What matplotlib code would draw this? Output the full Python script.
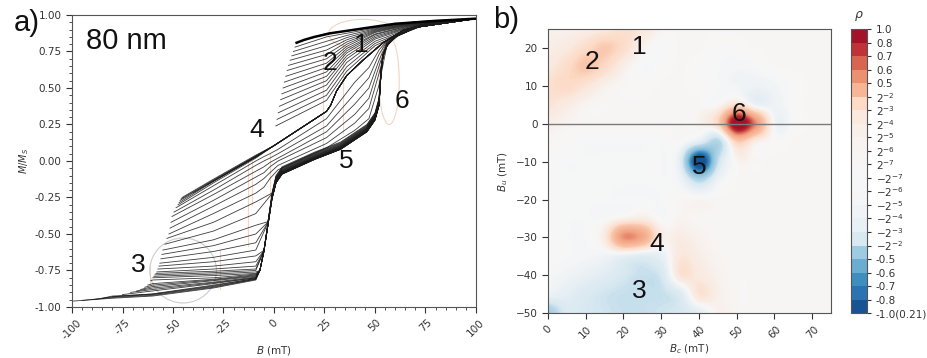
import numpy as np
import matplotlib.pyplot as plt
from matplotlib import colors
from matplotlib.cm import ScalarMappable
from matplotlib.patches import Ellipse
from matplotlib.ticker import AutoMinorLocator

# ---------------- a) first-order reversal curves ----------------
# upper envelope (saturated, reversible part)
env_B = [11.2, 15, 20, 28, 45, 60, 80, 100]
env_M = [0.81, 0.83, 0.85, 0.875, 0.91, 0.94, 0.96, 0.975]

# top group: reversal points on the steep upper drop, values at top_B
top_B = [26, 36, 50, 70, 100]
top_br = [11.2, 10.4, 9.6, 8.8, 8.0, 7.2, 6.5, 5.8, 5.1, 4.5, 3.9, 3.3, 2.7, 2.1, 1.5, 0.9]
top_mr = [0.81, 0.78, 0.75, 0.72, 0.69, 0.655, 0.62, 0.58, 0.54, 0.50, 0.46, 0.42, 0.375, 0.33, 0.285, 0.24]
top_m26 = [0.875, 0.85, 0.82, 0.79, 0.76, 0.73, 0.70, 0.67, 0.64, 0.61, 0.58, 0.55, 0.52, 0.485, 0.45, 0.415]
top_m36 = [0.89, 0.875, 0.86, 0.845, 0.83, 0.815, 0.80, 0.785, 0.77, 0.755, 0.74, 0.72, 0.70, 0.675, 0.645, 0.615]
top_m50 = [0.915, 0.91, 0.905, 0.90, 0.895, 0.89, 0.885, 0.88, 0.87, 0.865, 0.855, 0.845, 0.835, 0.82, 0.805, 0.79]
top_m70 = [0.955, 0.953, 0.951, 0.949, 0.947, 0.945, 0.943, 0.94, 0.938, 0.935, 0.932, 0.93, 0.927, 0.924, 0.92, 0.917]

# upper path (kink at feature 2)
U_B = [-9, 0, 26, 28, 31, 36, 44, 54, 64, 77, 100]
U_M = [0.03, 0.105, 0.34, 0.38, 0.48, 0.585, 0.69, 0.81, 0.895, 0.945, 0.975]
mid_br = [-40, -33, -26, -19, -12, -5]
mid_mr = [-0.218, -0.162, -0.106, -0.05, 0.006, 0.063]

# lower path (jump at feature 6), with spread weight along the path
L_B = [-9, -7, -5, -3, -1, 1, 4, 20, 33, 46, 50, 52, 53, 54, 56, 60, 70, 100]
L_M = [-0.80, -0.75, -0.62, -0.44, -0.26, -0.15, -0.09, 0.01, 0.08, 0.20, 0.28, 0.38, 0.60, 0.72, 0.79, 0.85, 0.915, 0.975]
L_w = [0, 0, 0.3, 0.6, 0.8, 1, 1, 1, 1, 1, 1, 1, 0.6, 0.3, 0.1, 0, 0, 0]

# intermediate paths between U and L
I_B = [-5, -2, 2, 26, 40, 47, 52, 56, 62, 75, 100]
I_M = [
    [0.03, 0.05, 0.08, 0.29, 0.54, 0.64, 0.76, 0.825, 0.875, 0.935, 0.975],
    [0.0, 0.02, 0.05, 0.24, 0.46, 0.57, 0.73, 0.82, 0.872, 0.935, 0.975],
    [-0.04, -0.01, 0.02, 0.20, 0.39, 0.50, 0.69, 0.815, 0.87, 0.935, 0.975],
    [-0.08, -0.04, 0.0, 0.16, 0.32, 0.43, 0.65, 0.81, 0.868, 0.935, 0.975],
    [-0.12, -0.08, -0.03, 0.12, 0.26, 0.36, 0.60, 0.805, 0.865, 0.935, 0.975],
    [-0.18, -0.12, -0.06, 0.09, 0.21, 0.29, 0.52, 0.80, 0.862, 0.935, 0.975],
]

# lower group: reversal points, values at head_B, and which path follows
head_B = [-80, -60, -30, -9]
nan = np.nan
low_br = [-45.5, -46.0, -46.5, -47.0, -47.5, -48.5, -49.5, -50.5, -51.0, -51.5, -52.0,
          -53.0, -54.0, -55.0, -55.5, -56.0, -56.5, -57.0, -57.5, -58.0, -58.5, -59.0, -59.5,
          -60.0, -61.0, -62.5, -64.0, -66.0, -68.0, -71.0, -75.0, -80.0, -85.0, -90.0, -95.0, -100.0]
low_mr = [-0.25, -0.26, -0.27, -0.285, -0.30, -0.32, -0.35, -0.38, -0.42, -0.46, -0.50,
          -0.53, -0.57, -0.61, -0.64, -0.67, -0.70, -0.72, -0.74, -0.76, -0.77, -0.78, -0.79,
          -0.80, -0.82, -0.85, -0.865, -0.88, -0.89, -0.90, -0.915, -0.93, -0.94, -0.95, -0.955, -0.96]
low_m80 = [nan] * 32 + [-0.925, -0.93, -0.935, -0.94]
low_m60 = [nan] * 24 + [-0.815, -0.84, -0.85, -0.86, -0.87, -0.88, -0.89, -0.91, -0.912, -0.915, -0.92, -0.925]
low_m30 = [-0.125, -0.13, -0.135, -0.14, -0.15, -0.17, -0.20, -0.23, -0.27, -0.31, -0.36,
           -0.42, -0.48, -0.54, -0.58, -0.62, -0.66, -0.69, -0.72, -0.74, -0.755, -0.765, -0.775,
           -0.785, -0.80, -0.81, -0.815, -0.82, -0.83, -0.835, -0.84, -0.85, -0.855, -0.86, -0.865, -0.87]
low_m9 = [0.04, 0.035, 0.03, 0.025, 0.02, 0.0, -0.03, -0.07, -0.11, -0.16, -0.22,
          -0.28, -0.36, -0.44, -0.50, -0.56, -0.61, -0.65, -0.69, -0.72, -0.74, -0.75, -0.76,
          -0.77, -0.775, -0.78, -0.785, -0.79, -0.795, -0.80, -0.80, -0.805, -0.805, -0.81, -0.81, -0.815]
low_path = ['U'] * 5 + [0, 1, 2, 3, 4, 5] + ['L'] * 25
low_spread = [0] * 11 + [0.05, 0.045, 0.04, 0.036, 0.032, 0.028, 0.025, 0.022, 0.019, 0.016, 0.014,
                         0.012, 0.010, 0.008, 0.007, 0.006, 0.005, 0.004, 0.003, 0.002, 0.0015, 0.001,
                         0.0005, 0, 0]

# faint feature markers drawn over the curves
ov_B = [24.4, 34, -13, -26.7, -61.4, -11, -2]
ov_M0 = [0.05, 0.19, -0.58, -0.88, -0.85, -0.30, -0.30]
ov_M1 = [0.76, 0.83, 0.0, -0.61, -0.70, 0.0, 0.05]

a_labels = ['1', '2', '3', '4', '5', '6']
a_lab_B = [43.4, 27.7, -67, -8.6, 36, 63.2]
a_lab_M = [0.795, 0.67, -0.71, 0.21, 0.0, 0.41]

# ---------------- b) FORC distribution ----------------
Bc = [0, 5, 10, 15, 20, 25, 30, 35, 40, 45, 50, 55, 60, 65, 70, 75]
Bu = [25, 20, 15, 10, 5, 0, -5, -10, -15, -20, -25, -30, -35, -40, -45, -50]
rho = [
    [0.03, 0.03, 0.05, 0.08, 0.14, 0.10, 0.02, 0.01, 0.01, 0.01, 0.01, 0.01, 0.01, 0.01, 0.01, 0.01],
    [0.05, 0.08, 0.16, 0.24, 0.16, 0.03, -0.01, 0.01, 0.01, 0.0, 0.0, 0.01, 0.01, 0.01, 0.01, 0.01],
    [0.08, 0.16, 0.26, 0.18, 0.05, -0.01, 0.0, 0.01, 0.0, -0.01, -0.02, -0.01, 0.01, 0.01, 0.01, 0.01],
    [0.14, 0.18, 0.12, 0.04, 0.01, 0.0, 0.01, 0.01, 0.0, -0.01, -0.03, -0.05, -0.03, 0.0, 0.01, 0.01],
    [0.12, 0.07, 0.02, 0.01, 0.01, 0.01, 0.01, 0.01, 0.01, 0.0, 0.12, -0.07, -0.05, 0.0, 0.01, 0.01],
    [0.05, 0.02, 0.01, 0.01, 0.01, 0.01, 0.01, 0.01, 0.02, 0.20, 1.00, 0.55, -0.03, 0.0, 0.01, 0.01],
    [0.01, 0.0, -0.01, -0.01, -0.01, -0.01, -0.01, 0.0, -0.12, -0.28, 0.22, 0.05, 0.0, 0.01, 0.01, 0.01],
    [0.0, -0.01, -0.01, -0.01, -0.01, -0.01, -0.01, -0.12, -1.00, -0.22, 0.02, 0.01, 0.01, 0.01, 0.01, 0.01],
    [0.0, -0.01, -0.01, -0.01, -0.01, -0.01, -0.01, -0.04, -0.28, -0.05, 0.01, 0.01, 0.01, 0.01, 0.01, 0.01],
    [0.0, -0.01, -0.01, -0.01, -0.01, -0.01, -0.01, 0.01, 0.01, 0.01, 0.01, 0.01, 0.01, 0.01, 0.01, 0.01],
    [0.0, -0.01, -0.01, -0.01, 0.03, 0.06, -0.01, 0.02, 0.01, 0.01, 0.01, 0.01, 0.01, 0.01, 0.01, 0.01],
    [0.0, -0.01, -0.01, 0.08, 0.55, 0.45, 0.06, 0.06, 0.03, 0.01, 0.01, 0.01, 0.01, 0.01, 0.01, 0.01],
    [0.0, -0.01, -0.02, -0.04, -0.08, -0.12, -0.08, 0.10, 0.05, 0.02, 0.01, 0.01, 0.01, 0.01, 0.01, 0.01],
    [-0.02, -0.04, -0.08, -0.12, -0.18, -0.22, -0.18, 0.12, 0.08, 0.03, 0.01, 0.01, 0.01, 0.01, 0.01, 0.01],
    [-0.06, -0.10, -0.16, -0.20, -0.22, -0.22, -0.22, -0.14, 0.12, 0.04, 0.01, 0.01, 0.01, 0.01, 0.01, 0.01],
    [-0.35, -0.16, -0.18, -0.20, -0.22, -0.22, -0.20, -0.18, -0.10, 0.03, 0.01, 0.01, 0.01, 0.01, 0.01, 0.01],
]

b_labels = ['1', '2', '3', '4', '5', '6']
b_lab_Bc = [24.3, 11.6, 24.3, 28.8, 40.0, 50.7]
b_lab_Bu = [20.3, 16.3, -44.0, -31.7, -11.5, 2.7]

cb_bounds = [-1.0, -0.8, -0.7, -0.6, -0.5, -2**-2, -2**-3, -2**-4, -2**-5, -2**-6, -2**-7,
             2**-7, 2**-6, 2**-5, 2**-4, 2**-3, 2**-2, 0.5, 0.6, 0.7, 0.8, 1.0]
cb_labels = ['-1.0(0.21)', '-0.8', '-0.7', '-0.6', '-0.5'] + \
            [r'$-2^{-%d}$' % k for k in (2, 3, 4, 5, 6, 7)] + \
            [r'$2^{-%d}$' % k for k in (7, 6, 5, 4, 3, 2)] + ['0.5', '0.6', '0.7', '0.8', '1.0']

# ---------------- drawing ----------------
big = dict(family=['Liberation Sans', 'DejaVu Sans'], color='#111111')
tick_c = '#333333'
line_c = '#1a1a1a'

fig = plt.figure(figsize=(9.28, 3.58), dpi=100)
ax = fig.add_axes([0.0776, 0.1425, 0.4353, 0.8156])

for ox, m0, m1 in zip(ov_B, ov_M0, ov_M1):
    ax.plot([ox, ox], [m0, m1], color='#e9a27a', lw=0.8, alpha=0.45, zorder=1)
ax.add_patch(Ellipse((-45, -0.75), 33, 0.445, fill=False, ec='#cccccc', lw=0.8, zorder=1))
ax.add_patch(Ellipse((44, 0.87), 34, 0.2, fill=False, ec='#f3d5c2', lw=0.8, zorder=1))
ax.add_patch(Ellipse((57, 0.55), 10, 0.6, fill=False, ec='#f3d5c2', lw=0.8, zorder=1))

kw = dict(color=line_c, lw=0.6, alpha=0.85, zorder=2)
for i, br in enumerate(top_br):
    ax.plot([br] + top_B,
            [top_mr[i], top_m26[i], top_m36[i], top_m50[i], top_m70[i], 0.975], **kw)

for br, mr in zip(mid_br, mid_mr):
    xs = [br] + [b for b in U_B if b > br]
    ys = [mr] + [m for b, m in zip(U_B, U_M) if b > br]
    ax.plot(xs, ys, **kw)

for i, br in enumerate(low_br):
    heads = [low_m80[i], low_m60[i], low_m30[i], low_m9[i]]
    xs = [br] + [b for b, m in zip(head_B, heads) if b > br and not np.isnan(m)]
    ys = [low_mr[i]] + [m for b, m in zip(head_B, heads) if b > br and not np.isnan(m)]
    path = low_path[i]
    if path == 'U':
        xs += U_B[1:]
        ys += U_M[1:]
    elif path == 'L':
        for b, m, w in zip(L_B, L_M, L_w):
            mm = m + low_spread[i] * w
            if b > -9 and mm > low_m9[i]:
                xs.append(b)
                ys.append(mm)
    else:
        xs += I_B
        ys += I_M[path]
    ax.plot(xs, ys, **kw)

ax.plot(env_B, env_M, color='black', lw=1.8, zorder=3)

ax.set_xlim(-100, 100)
ax.set_ylim(-1, 1)
ax.set_xticks(range(-100, 101, 25))
ax.set_xticklabels([str(v) for v in range(-100, 101, 25)], rotation=45)
yt = [-1.0, -0.75, -0.5, -0.25, 0.0, 0.25, 0.5, 0.75, 1.0]
ax.set_yticks(yt)
ax.set_yticklabels(['%.2f' % v for v in yt])
ax.xaxis.set_minor_locator(AutoMinorLocator(5))
ax.yaxis.set_minor_locator(AutoMinorLocator(5))
ax.tick_params(labelsize=7.5, colors=tick_c, length=4)
ax.tick_params(which='minor', length=2, colors=tick_c)
ax.set_xlabel(r'$B$ (mT)', fontsize=7.5, color=tick_c, labelpad=2)
ax.set_ylabel(r'$M/M_S$', fontsize=7, color=tick_c, labelpad=3)
for s in ax.spines.values():
    s.set_color('#555555')

ax.text(-93, 0.82, '80 nm', fontsize=21, va='center', ha='left', **big)
for t, x, y in zip(a_labels, a_lab_B, a_lab_M):
    ax.text(x, y, t, fontsize=19, ha='center', va='center', zorder=5, **big)

# b) FORC distribution
cb_cols = plt.get_cmap('RdBu_r')([0.07, 0.13, 0.19, 0.25, 0.32, 0.42, 0.46, 0.48, 0.49, 0.495, 0.5,
                                  0.505, 0.515, 0.53, 0.55, 0.60, 0.67, 0.73, 0.79, 0.86, 0.92])
nb = len(cb_bounds) - 1
pos_b = np.linspace(0, 1, nb + 1)
anchors = [0.0] + list((np.arange(nb) + 0.5) / nb) + [1.0]
anchor_cols = [cb_cols[0]] + list(cb_cols) + [cb_cols[-1]]
img_cmap = colors.LinearSegmentedColormap.from_list('forc', list(zip(anchors, anchor_cols)))
img_norm = colors.FuncNorm((lambda v: np.interp(v, cb_bounds, pos_b),
                            lambda p: np.interp(p, pos_b, cb_bounds)), vmin=-1, vmax=1)

bx = fig.add_axes([0.5905, 0.125, 0.305, 0.794])
bx.imshow(np.array(rho), extent=[Bc[0] - 2.5, Bc[-1] + 2.5, Bu[-1] - 2.5, Bu[0] + 2.5],
          origin='upper', cmap=img_cmap, norm=img_norm, interpolation='catrom',
          interpolation_stage='data', aspect='auto')
bx.axhline(0, color='#7a7a7a', lw=1)
bx.set_xlim(0, 75)
bx.set_ylim(-50, 25)
bx.set_xticks(range(0, 71, 10))
bx.set_yticks(range(-50, 21, 10))
bx.tick_params(labelsize=7.5, colors=tick_c, length=4)
plt.setp(bx.get_xticklabels(), rotation=45)
bx.set_xlabel(r'$B_c$ (mT)', fontsize=7.5, color=tick_c, labelpad=2)
bx.set_ylabel(r'$B_u$ (mT)', fontsize=7.5, color=tick_c, labelpad=4)
for s in bx.spines.values():
    s.set_color('#555555')
for t, x, y in zip(b_labels, b_lab_Bc, b_lab_Bu):
    bx.text(x, y, t, fontsize=19, ha='center', va='center', **big)

cax = fig.add_axes([0.917, 0.125, 0.0172, 0.794])
sm = ScalarMappable(norm=colors.BoundaryNorm(cb_bounds, nb), cmap=colors.ListedColormap(cb_cols))
cb = fig.colorbar(sm, cax=cax, spacing='uniform', ticks=cb_bounds)
cb.ax.set_yticklabels(cb_labels)
cb.ax.tick_params(labelsize=7.5, colors=tick_c, length=3)
cb.outline.set_edgecolor('#555555')
fig.text(0.925, 0.955, r'$\rho$', fontsize=9, ha='center', va='center', color=tick_c)

fig.text(0.029, 0.935, 'a)', fontsize=21, ha='center', va='center', **big)
fig.text(0.545, 0.944, 'b)', fontsize=21, ha='center', va='center', **big)

fig.savefig('out.png', dpi=100)
